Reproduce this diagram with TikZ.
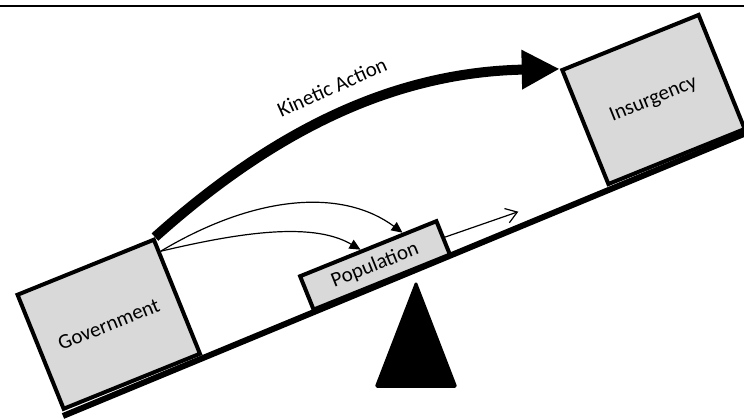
\documentclass[tikz,border=0pt]{standalone}
\usepackage{fontspec}
\setmainfont{Carlito}
\usetikzlibrary{arrows.meta,calc}
\definecolor{boxgray}{HTML}{D9D9D9}
\begin{document}
\begin{tikzpicture}[x=1pt,y=-1pt,
  box/.style={draw=black, fill=boxgray, line width=4pt, rotate=22, inner sep=0pt,
    font=\fontsize{21}{25}\selectfont},
  thinarrow/.style={line width=1.2pt, -{Triangle[length=11pt,width=10pt]}},
  openarrow/.style={line width=1.2pt, -{Straight Barb[length=11pt,width=15pt,line width=1.2pt]}},
  kinetic/.style={line width=10pt, -{Triangle[length=38pt,width=37pt]}},
  lbl/.style={font=\fontsize{21}{25}\selectfont, inner sep=0pt}]
\useasboundingbox (0,0) rectangle (744,419);
\clip (0,0) rectangle (744,419);
% top rule
\draw[line width=2pt] (0,5.7) -- (744,5.7);
% beam
\draw[line width=6pt] (63,416) -- (780,119);
% fulcrum
\filldraw[line width=1.5pt, line join=round, rounded corners=1.5pt]
  (416,282) -- (456.5,387) -- (375.5,387) -- cycle;
% boxes
\node[box, minimum width=147pt, minimum height=123pt] (gov) at (108.75,324.25) {Government};
\node[box, minimum width=147pt, minimum height=123pt] (ins) at (653.5,99.5) {Insurgency};
\node[box, minimum width=147pt, minimum height=36pt] (pop) at (375,265.4) {Population};
% kinetic action
\draw[kinetic] (gov.north east) .. controls (280,125) and (400,72) .. (ins.north west);
\node[lbl, rotate=24] (ka) at (332,87) {Kinetic Action};
% thin arrows
\coordinate (gs) at ($(gov.north east)!0.12!(gov.south east)$);
\draw[thinarrow] (gs) .. controls (260,192) and (345,190) .. ($(pop.north west)!0.75!(pop.north east)$);
\draw[thinarrow] (gs) .. controls (230,235) and (310,220) .. ($(pop.north west)!0.45!(pop.north east)$);
\coordinate (oe) at (518.3,211.7);
\draw[openarrow] (pop.east) -- (oe);
\end{tikzpicture}
\end{document}
